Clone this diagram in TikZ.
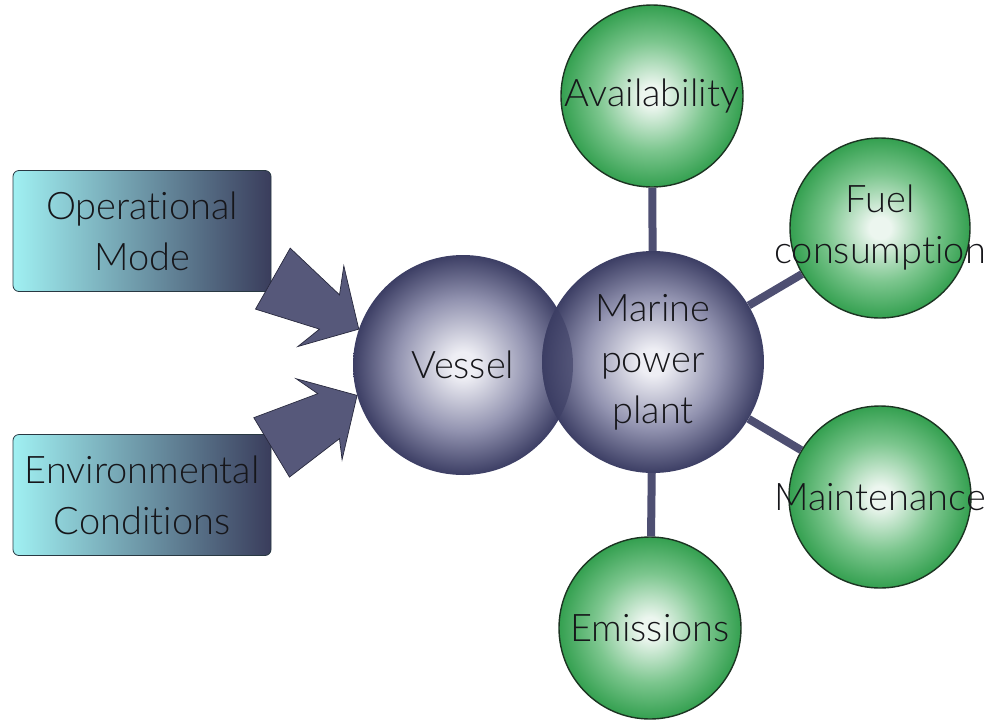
\documentclass[tikz,border=0pt]{standalone}
\usepackage{fontspec}
\IfFontExistsTF{Lato Light}{\setmainfont{Lato Light}[Ligatures=NoCommon]}{\setmainfont{Lato}[Ligatures=NoCommon]}
\usetikzlibrary{calc}

\definecolor{navyedge}{RGB}{60,62,100}
\definecolor{navymid}{RGB}{146,147,176}
\definecolor{navyhi}{RGB}{238,238,244}
\definecolor{greenedge}{RGB}{52,160,80}
\definecolor{greenmid}{RGB}{124,198,142}
\definecolor{greenhi}{RGB}{236,246,239}
\definecolor{greenline}{RGB}{28,52,34}
\definecolor{boxleft}{RGB}{160,240,242}
\definecolor{boxright}{RGB}{58,61,92}
\definecolor{boxline}{RGB}{40,56,66}
\definecolor{linkcol}{RGB}{78,79,114}
\definecolor{arrowfill}{RGB}{86,88,122}
\definecolor{arrowline}{RGB}{40,41,62}
\definecolor{inkcol}{RGB}{22,22,26}

% spheres: light centre fading to a darker rim (25bp = rim of the circle)
\pgfdeclareradialshading{navyball}{\pgfpoint{0bp}{0bp}}{%
  color(0bp)=(navyhi); color(3bp)=(navyhi); color(15bp)=(navymid);
  color(25bp)=(navyedge); color(50bp)=(navyedge)}
\pgfdeclareradialshading{greenball}{\pgfpoint{0bp}{0bp}}{%
  color(0bp)=(greenhi); color(3bp)=(greenhi); color(15bp)=(greenmid);
  color(25bp)=(greenedge); color(50bp)=(greenedge)}

\tikzset{
  navysphere/.style={circle, inner sep=0pt, shade, shading=navyball},
  greensphere/.style={circle, inner sep=0pt, shade, shading=greenball,
    draw=greenline, line width=1.4pt, minimum size=182pt},
  label text/.style={inner sep=0pt, align=center, text=inkcol,
    font=\fontsize{38}{51}\selectfont},
  inputbox/.style={rectangle, rounded corners=6pt, draw=boxline, line width=0.8pt,
    left color=boxleft, right color=boxright,
    minimum width=258pt, minimum height=121pt, inner sep=0pt},
  link/.style={draw=linkcol, line width=8pt},
  blockarrow/.style={fill=arrowfill, draw=arrowline, line width=0.7pt, line join=miter}
}

\begin{document}
\begin{tikzpicture}[x=1pt, y=-1pt]
\useasboundingbox (0,0) rectangle (986,724);

% input boxes
\node[inputbox] (opbox) at (142,231) {};
\node[inputbox] (envbox) at (142,495) {};
\node[label text] (optext) at (opbox) {Operational\\Mode};
\node[label text] (envtext) at (envbox) {Environmental\\Conditions};

% central spheres
\node[navysphere, minimum size=220pt] (ves) at (463,365) {};
\node[navysphere, minimum size=222pt] (mpp) at (653,362) {};

% darker lens where the two spheres overlap
\begin{scope}
  \clip (ves.center) circle[radius=110];
  \fill[navyedge, opacity=0.6] (mpp.center) circle[radius=111];
\end{scope}

% outcome spheres
\node[greensphere] (avail) at (652,96) {};
\node[greensphere, minimum size=180pt] (fuel) at (880,228) {};
\node[greensphere, minimum size=182pt] (maint) at (880,497) {};
\node[greensphere] (emis) at (650,628) {};

% spokes from the power plant
\draw[link] (mpp) -- (avail);
\draw[link] (mpp) -- (fuel);
\draw[link] (mpp) -- (maint);
\draw[link] (mpp) -- (emis);

% block arrows into the vessel
\begin{scope}[shift={(ves.161)}]
  \coordinate (tipA) at (0,0);
  \draw[blockarrow] (-68.6,-81) -- (-19.3,-34.3) -- (-15,-63.3) -- (tipA)
    -- (-61,17.4) -- (-39.3,0) -- (-103.3,-20) -- cycle;
\end{scope}
\begin{scope}[shift={(ves.196)}]
  \coordinate (tipB) at (0,0);
  \draw[blockarrow] (-103.3,22.3) -- (-39.3,-1.7) -- (-61,-16.7) -- (tipB)
    -- (-15,64.3) -- (-17.6,43.3) -- (-67.6,81.7) -- cycle;
\end{scope}

% labels
\node[label text] (vestext) at (ves) {Vessel};
\node[label text] (mpptext) at (mpp) {Marine\\power\\plant};
\node[label text] (availtext) at (avail) {Availability};
\node[label text] (fueltext) at (fuel) {Fuel\\consumption};
\node[label text] (mainttext) at (maint) {Maintenance};
\node[label text] (emistext) at (emis) {Emissions};
\end{tikzpicture}
\end{document}
